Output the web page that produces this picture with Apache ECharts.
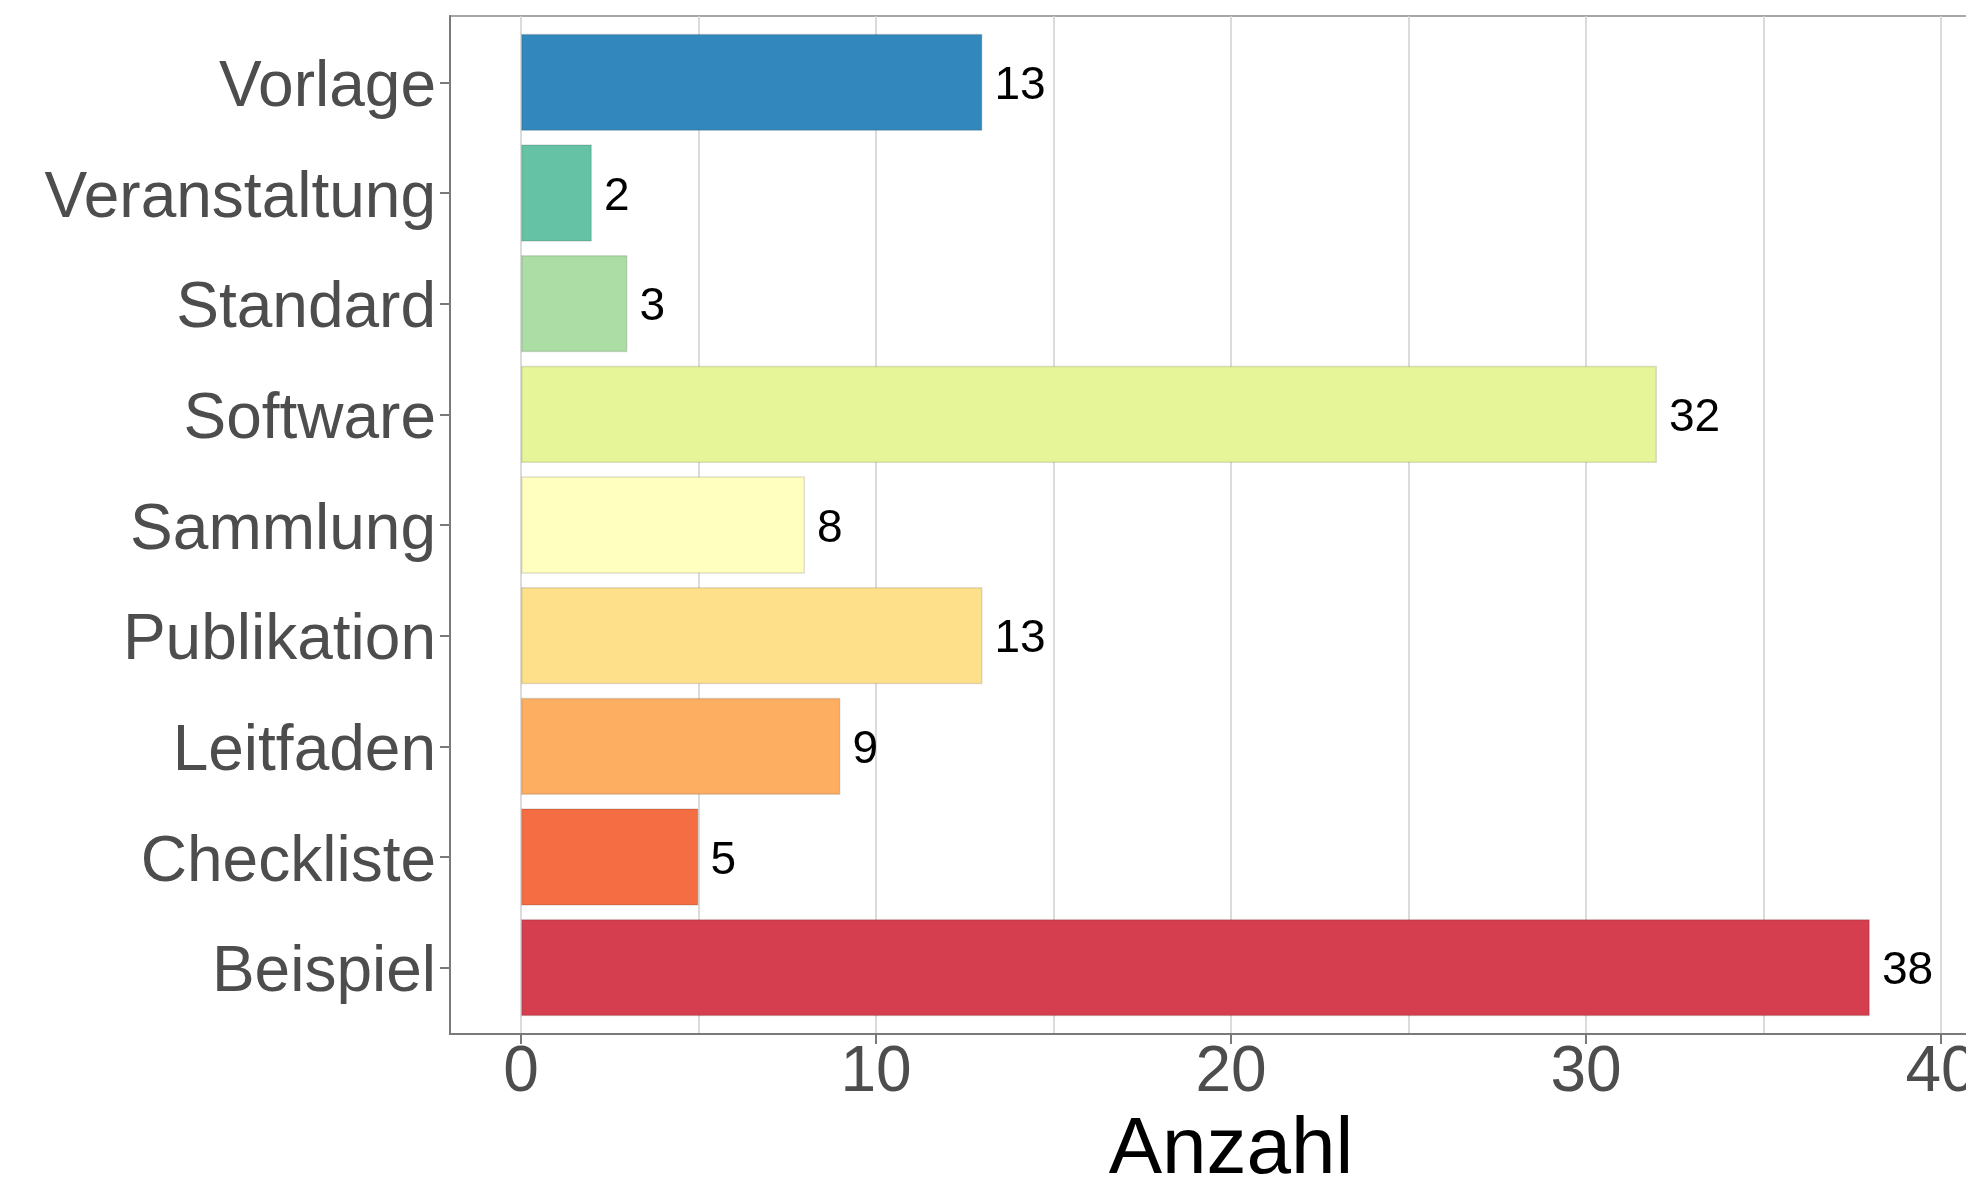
<!DOCTYPE html>
<html>
<head>
<meta charset="utf-8">
<title>Anzahl nach Typ</title>
<script src="https://cdn.jsdelivr.net/npm/echarts@6/dist/echarts.min.js"></script>
<style>
  html, body { margin: 0; padding: 0; background: #ffffff; }
  #chart { width: 1966px; height: 1185px; }
</style>
</head>
<body>
<div id="chart"></div>
<script>
// Categories listed bottom to top, as the horizontal bars are stacked on the y axis
const categories = ['Beispiel', 'Checkliste', 'Leitfaden', 'Publikation', 'Sammlung',
                    'Software', 'Standard', 'Veranstaltung', 'Vorlage'];
const counts = [38, 5, 9, 13, 8, 32, 3, 2, 13];

// Axis ticks
const majorTicks = [0, 10, 20, 30, 40];
const minorTicks = [5, 15, 25, 35];

// Spectral palette, one colour per category (same order as categories)
const palette = ['#d53e4f', '#f46d43', '#fdae61', '#fee08b', '#ffffbf',
                 '#e6f598', '#abdda4', '#66c2a5', '#3288bd'];

const FONT = 'Liberation Sans, Arial, sans-serif';
const X_MIN = -2, X_MAX = 42;

const chart = echarts.init(document.getElementById('chart'), null, { renderer: 'canvas' });

const option = {
  backgroundColor: '#ffffff',
  animation: false,
  grid: [
    // panel frame with grid lines (extends past the right edge of the canvas)
    { left: 450, top: 16, width: 1562, height: 1018, show: true,
      outerBoundsMode: 'none', containLabel: false,
      borderColor: '#a6a6a6', borderWidth: 2, backgroundColor: 'transparent' },
    // bar area (panel minus the 0.6 category padding at top and bottom)
    { left: 450, top: 27, width: 1562, height: 996,
      outerBoundsMode: 'none', containLabel: false }
  ],
  xAxis: [
    {
      gridIndex: 0, type: 'value', min: X_MIN, max: X_MAX,
      axisLine: { show: true, onZero: false, lineStyle: { color: '#7a7a7a', width: 2 } },
      axisTick: { show: true, customValues: majorTicks, length: 10,
                  lineStyle: { color: '#7a7a7a', width: 2 } },
      axisLabel: { show: true, customValues: majorTicks, margin: 7,
                   fontSize: 64, color: '#4d4d4d', fontFamily: FONT },
      splitLine: { show: true, lineStyle: { color: '#d2d2d2', width: 1.6 } },
      name: 'Anzahl', nameLocation: 'middle', nameGap: 77,
      nameTextStyle: { fontSize: 80, color: '#000000', fontFamily: FONT }
    },
    {
      gridIndex: 0, type: 'value', min: X_MIN, max: X_MAX,
      axisLine: { show: false, onZero: false },
      axisTick: { show: false, customValues: minorTicks },
      axisLabel: { show: false },
      splitLine: { show: true, lineStyle: { color: '#d2d2d2', width: 1.6 } }
    },
    {
      gridIndex: 1, type: 'value', min: X_MIN, max: X_MAX, show: false,
      axisLine: { onZero: false }
    }
  ],
  yAxis: [
    {
      gridIndex: 0, type: 'value', min: 0, max: 1,
      axisLine: { show: true, onZero: false, lineStyle: { color: '#7a7a7a', width: 2 } },
      axisTick: { show: false }, axisLabel: { show: false },
      splitLine: { show: false }
    },
    {
      gridIndex: 1, type: 'category', data: categories,
      axisLine: { show: false, onZero: false },
      axisTick: { show: true, alignWithLabel: true, length: 10,
                  lineStyle: { color: '#7a7a7a', width: 2 } },
      axisLabel: { margin: 14, fontSize: 64, color: '#4d4d4d', fontFamily: FONT,
                   verticalAlign: 'top', lineHeight: 12 },
      splitLine: { show: false }
    }
  ],
  series: [{
    type: 'bar',
    xAxisIndex: 2, yAxisIndex: 1,
    barCategoryGap: '12%',
    data: counts.map((v, i) => ({
      value: v,
      itemStyle: { color: palette[i], borderColor: 'rgba(0,0,0,0.12)', borderWidth: 1.5 }
    })),
    label: {
      show: true, position: 'right', distance: 12, offset: [0, 4],
      fontSize: 46, color: '#000000', fontFamily: FONT
    }
  }]
};

chart.setOption(option);
</script>
</body>
</html>
